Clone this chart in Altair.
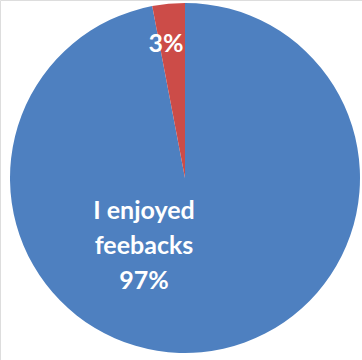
import altair as alt
import pandas as pd

categories = ["I enjoyed feebacks", "Other"]
shares = [97, 3]
colors = ["#4E80C0", "#CC4C48"]
label_lines = [["I enjoyed", "feebacks", "97%"], ["3%"]]

df = pd.DataFrame({"category": categories, "share": shares, "order": [0, 1]})

CX, CY, R = 185, 178, 175

pie = alt.Chart(df).mark_arc().encode(
    theta=alt.Theta("share:Q", stack=True),
    order=alt.Order("order:Q"),
    color=alt.Color("category:N", scale=alt.Scale(domain=categories, range=colors), legend=None),
    x=alt.value(CX),
    y=alt.value(CY),
    radius=alt.value(R),
)

lab_big = alt.Chart(pd.DataFrame({"t": [label_lines[0]]})).mark_text(
    font="Lato", fontWeight="bold", fontSize=25, color="white",
    align="center", baseline="middle", lineHeight=35,
).encode(text="t", x=alt.value(144), y=alt.value(211))

lab_small = alt.Chart(pd.DataFrame({"t": label_lines[1]})).mark_text(
    font="Lato", fontWeight="bold", fontSize=25, color="white",
    align="center", baseline="middle",
).encode(text="t:N", x=alt.value(166), y=alt.value(44))

chart = alt.layer(pie, lab_big, lab_small).properties(
    width=362, height=360, padding=0, autosize=alt.AutoSizeParams(type="none")
).configure_view(stroke=None).configure(background="white")

chart.save("out.html", embed_options={"renderer": "svg", "actions": False})
